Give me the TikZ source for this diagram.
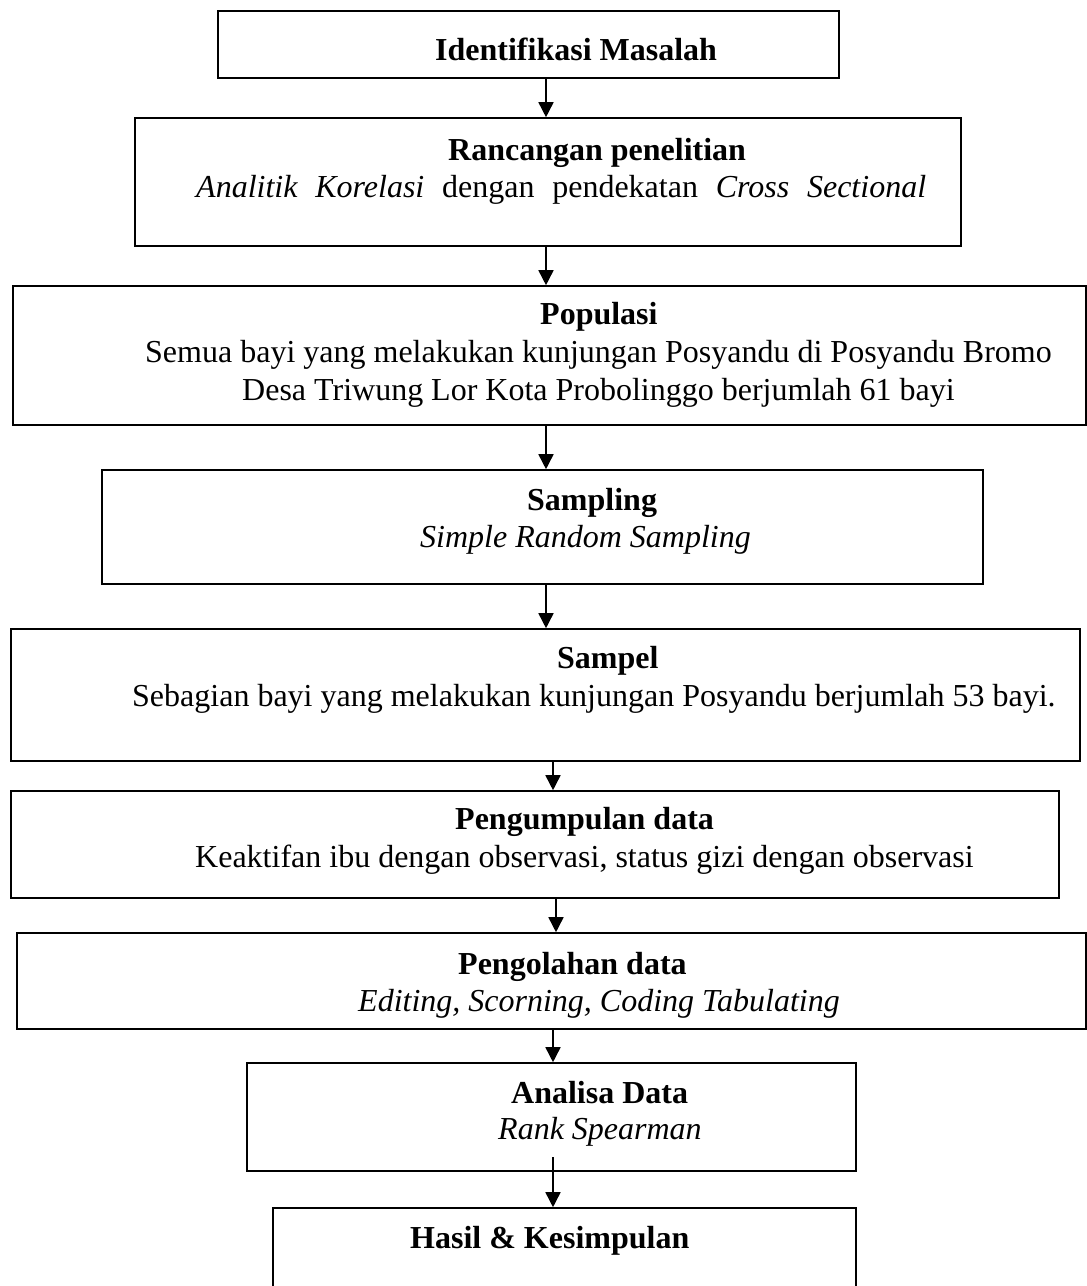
\documentclass[tikz,border=0pt]{standalone}
\usepackage{fontspec}
\setmainfont{Liberation Serif}
\usetikzlibrary{arrows.meta}
\begin{document}
\begin{tikzpicture}[x=1pt,y=-1pt,
  box/.style={draw=black, line width=1.6pt, inner sep=0pt},
  txt/.style={anchor=base west, inner sep=0pt, font=\fontsize{32}{37}\selectfont},
  ttl/.style={txt, font=\fontsize{32}{37}\selectfont\bfseries},
  arr/.style={line width=1.6pt, -{Triangle[length=15pt,width=15pt]}}]
\fill[white] (0,0) rectangle (1087,1286);
\useasboundingbox (0,0) rectangle (1087,1286);
% boxes
\node[box, minimum width=621pt, minimum height=67pt]  (b1) at (528.5,44.5) {};
\node[box, minimum width=826pt, minimum height=128pt] (b2) at (548,182) {};
\node[box, minimum width=1073pt, minimum height=139pt] (b3) at (549.5,355.5) {};
\node[box, minimum width=881pt, minimum height=114pt] (b4) at (542.5,527) {};
\node[box, minimum width=1069pt, minimum height=132pt] (b5) at (545.5,695) {};
\node[box, minimum width=1048pt, minimum height=107pt] (b6) at (535,844.5) {};
\node[box, minimum width=1069pt, minimum height=96pt]  (b7) at (551.5,981) {};
\node[box, minimum width=609pt, minimum height=108pt]  (b8) at (551.5,1117) {};
\node[box, minimum width=583pt, minimum height=100pt]  (b9) at (564.5,1258) {};
% texts
\node[ttl] (t1) at (435,60) {Identifikasi Masalah};
\node[ttl] (t2) at (448,160) {Rancangan penelitian};
\node[txt] (l2) at (196,197) {\makebox[730pt][s]{\itshape Analitik Korelasi\upshape{} dengan pendekatan \itshape Cross Sectional}};
\node[ttl] (t3) at (540,324) {Populasi};
\node[txt] (l3a) at (145,362) {Semua bayi yang melakukan kunjungan Posyandu di Posyandu Bromo};
\node[txt] (l3b) at (242,400) {Desa Triwung Lor Kota Probolinggo berjumlah 61 bayi};
\node[ttl] (t4) at (527,510) {Sampling};
\node[txt] (l4) at (420,547) {\itshape Simple Random Sampling};
\node[ttl] (t5) at (557,668) {Sampel};
\node[txt] (l5) at (132,706) {Sebagian bayi yang melakukan kunjungan Posyandu berjumlah 53 bayi.};
\node[ttl] (t6) at (455,829) {Pengumpulan data};
\node[txt] (l6) at (195,867) {Keaktifan ibu dengan observasi, status gizi dengan observasi};
\node[ttl] (t7) at (458,974) {Pengolahan data};
\node[txt] (l7) at (358,1011) {\itshape Editing, Scorning, Coding Tabulating};
\node[ttl] (t8) at (511,1103) {Analisa Data};
\node[txt] (l8) at (498,1139) {\itshape Rank Spearman};
\node[ttl] (t9) at (410,1248) {Hasil \& Kesimpulan};
% arrow x positions
\coordinate (a1) at (546,0);
\coordinate (a5) at (553,0);
\coordinate (a6) at (556,0);
\coordinate (s8) at (553,1157);
\draw[arr] (b1.south -| a1) -- (b2.north -| a1);
\draw[arr] (b2.south -| a1) -- (b3.north -| a1);
\draw[arr] (b3.south -| a1) -- (b4.north -| a1);
\draw[arr] (b4.south -| a1) -- (b5.north -| a1);
\draw[arr] (b5.south -| a5) -- (b6.north -| a5);
\draw[arr] (b6.south -| a6) -- (b7.north -| a6);
\draw[arr] (b7.south -| a5) -- (b8.north -| a5);
\draw[arr] (s8) -- (b9.north -| s8);
\end{tikzpicture}
\end{document}
